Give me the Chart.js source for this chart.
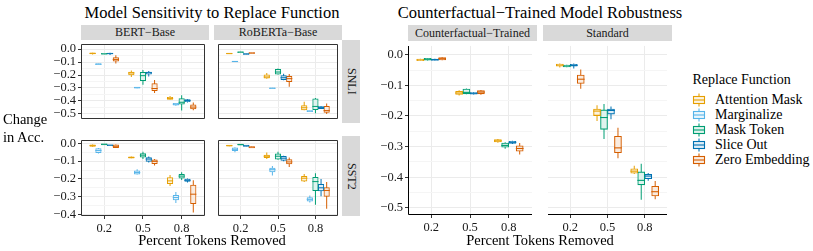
<!DOCTYPE html>
<html><head><meta charset="utf-8">
<script src="https://cdn.jsdelivr.net/npm/chart.js@4.4.1/dist/chart.umd.min.js"></script>
<style>
html,body{margin:0;padding:0;background:#fff}
body{width:813px;height:251px;position:relative;overflow:hidden;font-family:"Liberation Serif","Times New Roman",serif;color:#000}
canvas{position:absolute}
.t{position:absolute;white-space:nowrap;line-height:1}
.c{transform:translate(-50%,-50%)}
.strip{position:absolute;background:#d9d9d9;color:#1a1a1a;font-size:12px;display:flex;align-items:center;justify-content:center;white-space:nowrap}
.vstrip{writing-mode:vertical-rl}
</style></head><body>
<script>
// ---------------- data ----------------
const categories = ['0.2', '0.5', '0.8'];
const replaceFunctions = ['Attention Mask', 'Marginalize', 'Mask Token', 'Slice Out', 'Zero Embedding'];
const functionColors = ['#E69F00', '#56B4E9', '#009E73', '#0072B2', '#D55E00'];
const snliTicks = [0, -0.1, -0.2, -0.3, -0.4, -0.5];
const snliTickLabels = ['0.0', '\u22120.1', '\u22120.2', '\u22120.3', '\u22120.4', '\u22120.5'];
const sst2Ticks = [0, -0.1, -0.2, -0.3, -0.4];
const sst2TickLabels = ['0.0', '\u22120.1', '\u22120.2', '\u22120.3', '\u22120.4'];
const robustTicks = [0, -0.1, -0.2, -0.3, -0.4, -0.5];
const robustTickLabels = ['0.0', '\u22120.1', '\u22120.2', '\u22120.3', '\u22120.4', '\u22120.5'];
// rows follow replaceFunctions; each row: one [low whisker, q1, median, q3, high whisker] per category
const bertSnli = [
  [[-0.042,-0.037,-0.034,-0.031,-0.029],[-0.216,-0.198,-0.184,-0.178,-0.165],[-0.389,-0.386,-0.380,-0.373,-0.362]],
  [[-0.123,-0.120,-0.117,-0.114,-0.111],[-0.302,-0.300,-0.297,-0.294,-0.292],[-0.436,-0.430,-0.425,-0.420,-0.415]],
  [[-0.041,-0.039,-0.037,-0.035,-0.033],[-0.275,-0.243,-0.205,-0.181,-0.161],[-0.473,-0.424,-0.410,-0.383,-0.356]],
  [[-0.045,-0.037,-0.035,-0.032,-0.029],[-0.211,-0.193,-0.182,-0.178,-0.169],[-0.411,-0.404,-0.396,-0.391,-0.386]],
  [[-0.111,-0.093,-0.080,-0.067,-0.048],[-0.338,-0.319,-0.304,-0.267,-0.238],[-0.472,-0.460,-0.447,-0.430,-0.412]]
];
const robertaSnli = [
  [[-0.039,-0.037,-0.035,-0.033,-0.031],[-0.228,-0.223,-0.215,-0.199,-0.184],[-0.472,-0.467,-0.452,-0.436,-0.406]],
  [[-0.100,-0.098,-0.096,-0.094,-0.092],[-0.306,-0.304,-0.302,-0.300,-0.298],[-0.484,-0.481,-0.478,-0.475,-0.472]],
  [[-0.029,-0.027,-0.024,-0.022,-0.020],[-0.197,-0.193,-0.177,-0.157,-0.150],[-0.494,-0.466,-0.442,-0.384,-0.378]],
  [[-0.044,-0.041,-0.038,-0.036,-0.033],[-0.240,-0.234,-0.221,-0.206,-0.190],[-0.462,-0.457,-0.451,-0.444,-0.440]],
  [[-0.035,-0.033,-0.031,-0.029,-0.027],[-0.290,-0.250,-0.228,-0.212,-0.193],[-0.501,-0.487,-0.474,-0.442,-0.420]]
];
const bertSst2 = [
  [[-0.018,-0.015,-0.012,-0.009,-0.006],[-0.084,-0.082,-0.079,-0.076,-0.074],[-0.240,-0.226,-0.211,-0.194,-0.178]],
  [[-0.056,-0.051,-0.040,-0.030,-0.025],[-0.175,-0.172,-0.164,-0.155,-0.146],[-0.336,-0.318,-0.305,-0.294,-0.274]],
  [[-0.009,-0.007,-0.005,-0.003,-0.001],[-0.087,-0.076,-0.066,-0.058,-0.047],[-0.206,-0.195,-0.184,-0.175,-0.162]],
  [[-0.014,-0.012,-0.010,-0.009,-0.007],[-0.108,-0.100,-0.088,-0.080,-0.074],[-0.220,-0.213,-0.208,-0.202,-0.198]],
  [[-0.026,-0.023,-0.016,-0.009,-0.006],[-0.124,-0.113,-0.101,-0.093,-0.087],[-0.389,-0.338,-0.286,-0.235,-0.208]]
];
const robertaSst2 = [
  [[-0.016,-0.014,-0.012,-0.010,-0.008],[-0.087,-0.079,-0.072,-0.066,-0.051],[-0.217,-0.211,-0.196,-0.186,-0.172]],
  [[-0.049,-0.040,-0.033,-0.025,-0.022],[-0.181,-0.159,-0.148,-0.140,-0.127],[-0.333,-0.324,-0.315,-0.306,-0.293]],
  [[-0.009,-0.008,-0.006,-0.004,-0.003],[-0.092,-0.087,-0.072,-0.060,-0.047],[-0.345,-0.265,-0.215,-0.192,-0.168]],
  [[-0.019,-0.016,-0.013,-0.010,-0.008],[-0.100,-0.094,-0.083,-0.074,-0.069],[-0.297,-0.266,-0.250,-0.232,-0.200]],
  [[-0.026,-0.024,-0.021,-0.018,-0.016],[-0.133,-0.115,-0.104,-0.092,-0.079],[-0.368,-0.298,-0.265,-0.249,-0.217]]
];
// right figure: Attention Mask, Mask Token, Slice Out, Zero Embedding
const robustFunctions = [0, 2, 3, 4];
const counterfactualTrained = [
  [[-0.021,-0.019,-0.017,-0.015,-0.013],[-0.133,-0.129,-0.125,-0.120,-0.116],[-0.287,-0.284,-0.281,-0.278,-0.275]],
  [[-0.019,-0.017,-0.015,-0.013,-0.011],[-0.129,-0.127,-0.123,-0.113,-0.110],[-0.307,-0.301,-0.296,-0.289,-0.286]],
  [[-0.020,-0.018,-0.016,-0.015,-0.013],[-0.130,-0.128,-0.126,-0.124,-0.122],[-0.291,-0.289,-0.286,-0.283,-0.281]],
  [[-0.018,-0.016,-0.013,-0.010,-0.008],[-0.131,-0.127,-0.122,-0.118,-0.115],[-0.326,-0.314,-0.306,-0.298,-0.288]]
];
const standardModel = [
  [[-0.042,-0.037,-0.034,-0.031,-0.029],[-0.216,-0.198,-0.184,-0.178,-0.165],[-0.389,-0.386,-0.380,-0.373,-0.362]],
  [[-0.041,-0.039,-0.037,-0.035,-0.033],[-0.275,-0.243,-0.205,-0.181,-0.161],[-0.473,-0.424,-0.410,-0.383,-0.356]],
  [[-0.045,-0.037,-0.035,-0.032,-0.029],[-0.211,-0.193,-0.182,-0.178,-0.169],[-0.411,-0.404,-0.396,-0.391,-0.386]],
  [[-0.111,-0.093,-0.080,-0.067,-0.048],[-0.338,-0.319,-0.304,-0.267,-0.238],[-0.472,-0.460,-0.447,-0.430,-0.412]]
];

// ---------------- drawing ----------------
const FONT = '"Liberation Serif","Times New Roman",serif';
function tint(hex, a) {
  const r = parseInt(hex.slice(1,3),16), g = parseInt(hex.slice(3,5),16), b = parseInt(hex.slice(5,7),16);
  const m = v => Math.round(255 + (v - 255) * a);
  return `rgb(${m(r)},${m(g)},${m(b)})`;
}
const framePlugin = {
  id: 'frame',
  afterDraw(chart, args, o) {
    const {ctx, chartArea: a} = chart;
    ctx.save();
    ctx.lineWidth = 1;
    ctx.strokeStyle = o.color || '#333';
    const L = Math.round(a.left) + 0.5, R = Math.round(a.right) - 0.5, T = Math.round(a.top) + 0.5, B = Math.round(a.bottom) - 0.5;
    ctx.beginPath();
    if (o.mode === 'box') { ctx.rect(L, T, R - L, B - T); }
    if (o.mode === 'lb') { ctx.moveTo(L, T - 0.5); ctx.lineTo(L, B); ctx.lineTo(R + 0.5, B); }
    if (o.mode === 'b') { ctx.moveTo(L - 0.5, B); ctx.lineTo(R + 0.5, B); }
    ctx.stroke();
    ctx.restore();
  }
};

function panel(o) {
  const yW = o.showY ? o.yW : 0, xH = o.showX ? 22 : 0;
  const cv = document.createElement('canvas');
  const W = o.w + yW, H = o.h + xH;
  cv.width = W; cv.height = H;
  cv.style.left = (o.left - yW) + 'px'; cv.style.top = o.top + 'px';
  cv.style.width = W + 'px'; cv.style.height = H + 'px';
  document.body.appendChild(cv);

  const majors = o.ticks;
  const minors = [];
  for (let i = 0; i < majors.length - 1; i++) minors.push((majors[i] + majors[i+1]) / 2);
  const allTicks = majors.map((v, i) => ({value: v, major: true, label: o.tickLabels[i]}))
    .concat(minors.map(v => ({value: v, major: false, label: ''})))
    .sort((p, q) => p.value - q.value);

  const n = o.funcs.length, step = 0.75 / n;
  const datasets = [];
  o.funcs.forEach((f, k) => {
    const rows = o.data[k];
    const off = (k - (n - 1) / 2) * step;
    const col = functionColors[f];
    datasets.push({type: 'bar', label: replaceFunctions[f] + ' whiskers', order: 3, grouped: false,
      data: rows.map((s, c) => ({x: c + 1 + off, y: [s[0], s[4]]})),
      backgroundColor: col, borderWidth: 0, barThickness: 1.0, inflateAmount: 0});
    datasets.push({type: 'bar', label: replaceFunctions[f], order: 2, grouped: false,
      data: rows.map((s, c) => ({x: c + 1 + off, y: [s[1], s[3]]})),
      backgroundColor: tint(col, 0.12), borderColor: col, borderWidth: o.lw, borderSkipped: false,
      barThickness: o.boxW, inflateAmount: o.lw / 2});
    datasets.push({type: 'scatter', label: replaceFunctions[f] + ' median', order: 1,
      data: rows.map((s, c) => ({x: c + 1 + off, y: s[2]})),
      pointStyle: 'line', pointRadius: o.boxW / 2 + o.lw / 2, pointHoverRadius: 0,
      borderColor: col, pointBorderColor: col, pointBorderWidth: o.lw, showLine: false});
  });

  new Chart(cv, {
    type: 'bar',
    data: {datasets},
    plugins: [framePlugin],
    options: {
      responsive: false, animation: false, events: [],
      layout: {padding: 0},
      plugins: {legend: {display: false}, tooltip: {enabled: false}, title: {display: false},
        frame: {mode: o.frame, color: o.frameColor}},
      scales: {
        x: {
          type: 'linear', min: 0.4, max: 3.6, offset: false,
          afterBuildTicks: s => { s.ticks = categories.map((c, i) => ({value: i + 1})); },
          ticks: {display: o.showX, autoSkip: false, maxRotation: 0, padding: 2,
            callback: (v, i) => categories[i], color: '#1a1a1a', font: {family: FONT, size: o.tickSize}},
          grid: {offset: false, color: '#ebebeb', lineWidth: 1, drawTicks: o.showX, tickLength: 3, tickColor: '#333'},
          border: {display: false},
          afterFit: s => { s.height = xH; s.paddingLeft = 0; s.paddingRight = 0; }
        },
        y: {
          type: 'linear', min: o.yMin, max: o.yMax,
          afterBuildTicks: s => { s.ticks = allTicks.map(t => ({value: t.value})); },
          ticks: {display: o.showY, autoSkip: false, padding: 2,
            callback: (v, i) => allTicks[i].label, color: '#1a1a1a', font: {family: FONT, size: o.tickSize}},
          grid: {color: c => (allTicks[c.index] && allTicks[c.index].major) ? '#ebebeb' : '#f5f5f5',
            lineWidth: 1, drawTicks: o.showY, tickLength: 3,
            tickColor: c => (allTicks[c.index] && allTicks[c.index].major) ? '#333' : 'rgba(0,0,0,0)'},
          border: {display: false},
          afterFit: s => { s.width = yW; s.paddingTop = 0; s.paddingBottom = 0; }
        }
      }
    }
  });
}

const allFuncs = [0, 1, 2, 3, 4];
const leftCommon = {funcs: allFuncs, frame: 'box', frameColor: '#333', boxW: 5.2, lw: 1.0, w: 128, tickSize: 12.5, yW: 44};
panel(Object.assign({}, leftCommon, {left: 81, top: 40, h: 83, showY: true, showX: false, data: bertSnli,
  yMin: -0.538, yMax: 0.038, ticks: snliTicks, tickLabels: snliTickLabels}));
panel(Object.assign({}, leftCommon, {left: 214, top: 40, h: 83, showY: false, showX: false, data: robertaSnli,
  yMin: -0.538, yMax: 0.038, ticks: snliTicks, tickLabels: snliTickLabels}));
panel(Object.assign({}, leftCommon, {left: 81, top: 136, h: 80, showY: true, showX: true, data: bertSst2,
  yMin: -0.409, yMax: 0.019, ticks: sst2Ticks, tickLabels: sst2TickLabels}));
panel(Object.assign({}, leftCommon, {left: 214, top: 136, h: 80, showY: false, showX: true, data: robertaSst2,
  yMin: -0.409, yMax: 0.019, ticks: sst2Ticks, tickLabels: sst2TickLabels}));
const rightCommon = {funcs: robustFunctions, frameColor: '#000', boxW: 6.6, lw: 1.1, w: 129, h: 174, top: 41,
  showX: true, tickSize: 12.5, yW: 48, yMin: -0.523, yMax: 0.0285, ticks: robustTicks, tickLabels: robustTickLabels};
panel(Object.assign({}, rightCommon, {left: 408, showY: true, frame: 'lb', data: counterfactualTrained}));
panel(Object.assign({}, rightCommon, {left: 543, showY: false, frame: 'b', data: standardModel}));

// ---------------- text, strips, legend ----------------
function txt(html, x, y, size, cls, extra) {
  const d = document.createElement('div');
  d.className = 't ' + (cls || '');
  d.style.left = x + 'px'; d.style.top = y + 'px'; d.style.fontSize = size + 'px';
  if (extra) d.style.cssText += extra;
  d.innerHTML = html;
  document.body.appendChild(d);
  return d;
}
function strip(label, x, y, w, h, vertical) {
  const d = document.createElement('div');
  d.className = 'strip';
  d.style.left = x + 'px'; d.style.top = y + 'px'; d.style.width = w + 'px'; d.style.height = h + 'px';
  const s = document.createElement('span');
  if (vertical) s.className = 'vstrip';
  s.textContent = label;
  d.appendChild(s);
  document.body.appendChild(d);
}
txt('Model Sensitivity to Replace Function', 212, 12.5, 16.5, 'c');
txt('Counterfactual\u2212Trained Model Robustness', 540, 12.5, 16.5, 'c');
strip('BERT\u2212Base', 81, 25, 128, 15);
strip('RoBERTa\u2212Base', 214, 25, 128, 15);
strip('SNLI', 342, 40, 18, 83, true);
strip('SST2', 342, 136, 18, 80, true);
strip('Counterfactual\u2212Trained', 408, 25, 129, 16);
strip('Standard', 543, 25, 129, 16);
txt('Change<br>in Acc.', 3, 110, 14.5, '', 'line-height:18px');
txt('Percent Tokens Removed', 212, 239.5, 14.5, 'c');
txt('Percent Tokens Removed', 540, 239.5, 14.5, 'c');

txt('Replace Function', 692.5, 80, 14, '', 'transform:translateY(-50%)');
replaceFunctions.forEach((name, i) => {
  const cy = 99.8 + i * 15.1;
  const col = functionColors[i];
  const d = document.createElement('div');
  d.style.cssText = `position:absolute;left:692px;top:${cy - 7}px;width:14px;height:14px`;
  d.innerHTML = `<svg width="14" height="14" viewBox="0 0 14 14"><line x1="7" y1="0.5" x2="7" y2="13.5" stroke="${col}" stroke-width="1.1"/>` +
    `<rect x="1.5" y="3.5" width="11" height="7" fill="${tint(col,0.12)}" stroke="${col}" stroke-width="1.1"/>` +
    `<line x1="1.5" y1="7" x2="12.5" y2="7" stroke="${col}" stroke-width="1.1"/></svg>`;
  document.body.appendChild(d);
  txt(name, 715, cy, 14, '', 'transform:translateY(-50%)');
});
</script>
</body></html>
